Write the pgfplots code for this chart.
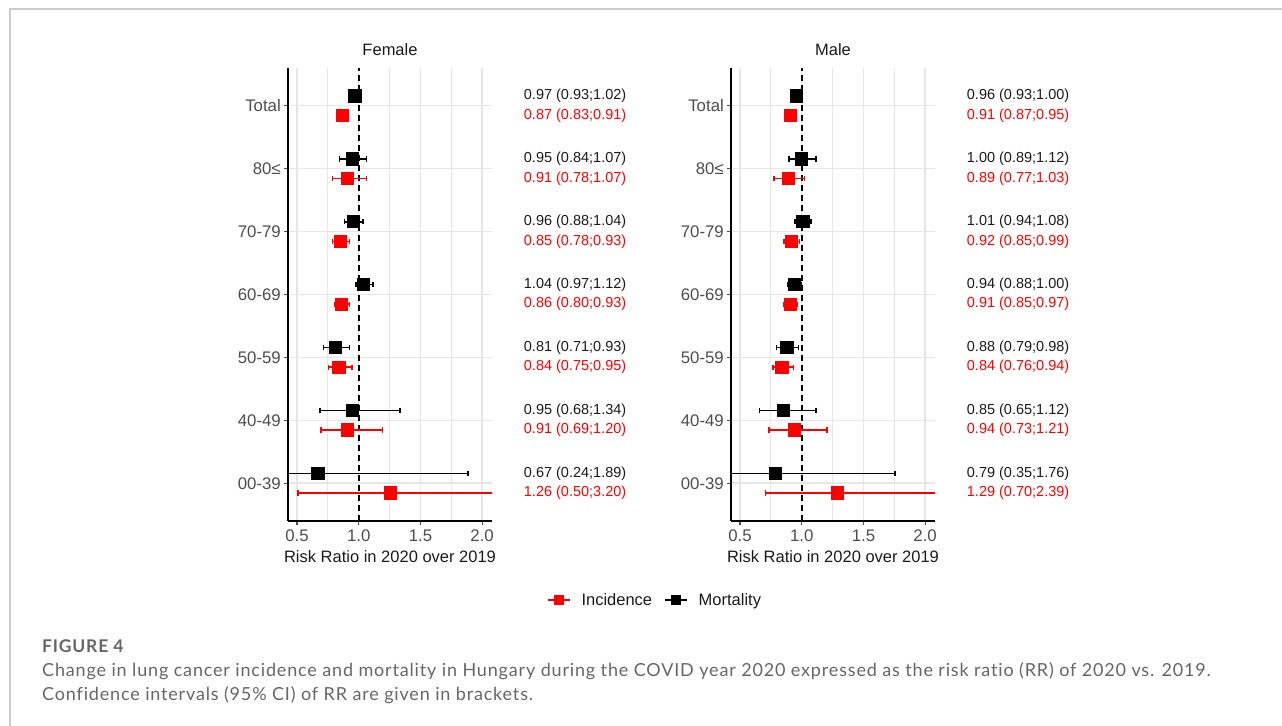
\documentclass[border=0pt]{standalone}
\usepackage{fontspec}
\setmainfont{Liberation Sans}
\newfontfamily\capfont[LetterSpace=4.6, Ligatures={NoCommon}]{Lato}
\usepackage{pgfplots}
\pgfplotsset{compat=1.18}
\usepackage{pgfplotstable}
\usetikzlibrary{arrows.meta}

\definecolor{tickgray}{HTML}{4D4D4D}
\definecolor{gridgray}{HTML}{E6E6E6}
\definecolor{capgray}{HTML}{666666}
\definecolor{bordergray}{HTML}{CCCCCC}
\definecolor{txt}{HTML}{1A1A1A}

% Female
\pgfplotstableread{
cat rr lo hi
7 0.97 0.93 1.02
6 0.95 0.84 1.07
5 0.96 0.88 1.04
4 1.04 0.97 1.12
3 0.81 0.71 0.93
2 0.95 0.68 1.34
1 0.67 0.24 1.89
}\femM
\pgfplotstableread{
cat rr lo hi
7 0.87 0.83 0.91
6 0.91 0.78 1.07
5 0.85 0.78 0.93
4 0.86 0.80 0.93
3 0.84 0.75 0.95
2 0.91 0.69 1.20
1 1.26 0.50 3.20
}\femI
% Male
\pgfplotstableread{
cat rr lo hi
7 0.96 0.93 1.00
6 1.00 0.89 1.12
5 1.01 0.94 1.08
4 0.94 0.88 1.00
3 0.88 0.79 0.98
2 0.85 0.65 1.12
1 0.79 0.35 1.76
}\malM
\pgfplotstableread{
cat rr lo hi
7 0.91 0.87 0.95
6 0.89 0.77 1.03
5 0.92 0.85 0.99
4 0.91 0.85 0.97
3 0.84 0.76 0.94
2 0.94 0.73 1.21
1 1.29 0.70 2.39
}\malI

\pgfplotsset{
 forest/.style={
  scale only axis, width=204bp, height=453bp,
  xmin=0.427, xmax=2.08, ymin=0.4, ymax=7.6,
  axis lines*=left,
  axis line style={black, line width=1.5bp},
  xtick={0.5,1,1.5,2}, xticklabels={0.5,1.0,1.5,2.0},
  minor xtick={0.75,1.25,1.75},
  ytick={1,2,3,4,5,6,7}, yticklabels={00-39,40-49,50-59,60-69,70-79,80≤,Total},
  grid=both,
  major grid style={gridgray, line width=1.5bp},
  minor grid style={gridgray, line width=0.9bp},
  tick align=outside, major tick length=4bp, minor tick length=0bp,
  tick style={tickgray, line width=1.2bp},
  ticklabel style={font=\fontsize{16.8bp}{19bp}\selectfont, text=tickgray},
  xticklabel style={anchor=base, inner sep=0pt, yshift=-17bp},
  yticklabel style={anchor=east, inner sep=0pt, xshift=-3bp},
  label style={font=\fontsize{16.5bp}{19bp}\selectfont, text=txt},
  xlabel style={at={(axis description cs:0.5,0)}, anchor=base, yshift=-42bp},
  title style={font=\fontsize{16.5bp}{19bp}\selectfont, text=txt, at={(axis description cs:0.5,1)}, anchor=base, yshift=7bp},
  xlabel={Risk Ratio in 2020 over 2019},
  clip mode=individual,
 },
 ci/.style={line width=1.5bp, forget plot, quiver={u=\thisrow{hi}-\thisrow{lo}, v=0},
  {Bar[width=5.2bp]}-{Bar[width=5.2bp]}},
 pt/.style={only marks, mark=square*, mark size=6.0bp, line width=1.2bp, forget plot},
}
\tikzset{ann/.style={anchor=west, inner sep=0pt, font=\fontsize{14.5bp}{17bp}\selectfont}}

\begin{document}
\begin{tikzpicture}[x=1bp,y=1bp]
\path[use as bounding box] (0,0) rectangle (1282,726);
\draw[bordergray, line width=2bp] (9.5,0) -- (9.5,716.7) -- (1282,716.7);

\begin{axis}[forest, at={(288bp,205bp)}, anchor=south west, title={Female},
  legend style={at={(axis description cs:1.799,-0.174)}, anchor=center, legend columns=2, draw=none, fill=none,
    font=\fontsize{16.5bp}{19bp}\selectfont, text=txt,
    /tikz/every odd column/.append style={column sep=9bp},
    /tikz/every even column/.append style={column sep=10bp}},
  legend image code/.code={\draw[mark repeat=2, mark phase=2, #1] plot coordinates {(0bp,0bp) (11bp,0bp) (22bp,0bp)};}]
\addplot[black, line width=1.6bp, dash pattern=on 6bp off 4bp, forget plot] coordinates {(1,0.4) (1,7.6)};
\addplot[ci, black] table[x=lo, y expr=\thisrow{cat}+0.155] {\femM};
\addplot[pt, black] table[x=rr, y expr=\thisrow{cat}+0.155] {\femM};
\addplot[ci, red] table[x=lo, y expr=\thisrow{cat}-0.155] {\femI};
\addplot[pt, red] table[x=rr, y expr=\thisrow{cat}-0.155] {\femI};
\addlegendimage{red, line width=1.6bp, mark=square*, mark size=4.3bp}
\addlegendentry{Incidence}
\addlegendimage{black, line width=1.6bp, mark=square*, mark size=4.3bp}
\addlegendentry{Mortality}
\node[ann, text=txt] at (axis cs:2.337,7.155) {0.97 (0.93;1.02)};
\node[ann, text=red] at (axis cs:2.337,6.845) {0.87 (0.83;0.91)};
\node[ann, text=txt] at (axis cs:2.337,6.155) {0.95 (0.84;1.07)};
\node[ann, text=red] at (axis cs:2.337,5.845) {0.91 (0.78;1.07)};
\node[ann, text=txt] at (axis cs:2.337,5.155) {0.96 (0.88;1.04)};
\node[ann, text=red] at (axis cs:2.337,4.845) {0.85 (0.78;0.93)};
\node[ann, text=txt] at (axis cs:2.337,4.155) {1.04 (0.97;1.12)};
\node[ann, text=red] at (axis cs:2.337,3.845) {0.86 (0.80;0.93)};
\node[ann, text=txt] at (axis cs:2.337,3.155) {0.81 (0.71;0.93)};
\node[ann, text=red] at (axis cs:2.337,2.845) {0.84 (0.75;0.95)};
\node[ann, text=txt] at (axis cs:2.337,2.155) {0.95 (0.68;1.34)};
\node[ann, text=red] at (axis cs:2.337,1.845) {0.91 (0.69;1.20)};
\node[ann, text=txt] at (axis cs:2.337,1.155) {0.67 (0.24;1.89)};
\node[ann, text=red] at (axis cs:2.337,0.845) {1.26 (0.50;3.20)};
\end{axis}

\begin{axis}[forest, at={(731bp,205bp)}, anchor=south west, title={Male}]
\addplot[black, line width=1.6bp, dash pattern=on 6bp off 4bp, forget plot] coordinates {(1,0.4) (1,7.6)};
\addplot[ci, black] table[x=lo, y expr=\thisrow{cat}+0.155] {\malM};
\addplot[pt, black] table[x=rr, y expr=\thisrow{cat}+0.155] {\malM};
\addplot[ci, red] table[x=lo, y expr=\thisrow{cat}-0.155] {\malI};
\addplot[pt, red] table[x=rr, y expr=\thisrow{cat}-0.155] {\malI};
\node[ann, text=txt] at (axis cs:2.337,7.155) {0.96 (0.93;1.00)};
\node[ann, text=red] at (axis cs:2.337,6.845) {0.91 (0.87;0.95)};
\node[ann, text=txt] at (axis cs:2.337,6.155) {1.00 (0.89;1.12)};
\node[ann, text=red] at (axis cs:2.337,5.845) {0.89 (0.77;1.03)};
\node[ann, text=txt] at (axis cs:2.337,5.155) {1.01 (0.94;1.08)};
\node[ann, text=red] at (axis cs:2.337,4.845) {0.92 (0.85;0.99)};
\node[ann, text=txt] at (axis cs:2.337,4.155) {0.94 (0.88;1.00)};
\node[ann, text=red] at (axis cs:2.337,3.845) {0.91 (0.85;0.97)};
\node[ann, text=txt] at (axis cs:2.337,3.155) {0.88 (0.79;0.98)};
\node[ann, text=red] at (axis cs:2.337,2.845) {0.84 (0.76;0.94)};
\node[ann, text=txt] at (axis cs:2.337,2.155) {0.85 (0.65;1.12)};
\node[ann, text=red] at (axis cs:2.337,1.845) {0.94 (0.73;1.21)};
\node[ann, text=txt] at (axis cs:2.337,1.155) {0.79 (0.35;1.76)};
\node[ann, text=red] at (axis cs:2.337,0.845) {1.29 (0.70;2.39)};
\end{axis}

\node[anchor=base west, inner sep=0pt, text=capgray, font=\capfont\bfseries\fontsize{17.5bp}{20bp}\selectfont] at (42,73) {FIGURE 4};
\node[anchor=base west, inner sep=0pt, text=capgray, font=\capfont\fontsize{18bp}{21bp}\selectfont] at (42,49) {Change in lung cancer incidence and mortality in Hungary during the COVID year 2020 expressed as the risk ratio (RR) of 2020 vs. 2019.};
\node[anchor=base west, inner sep=0pt, text=capgray, font=\capfont\fontsize{18bp}{21bp}\selectfont] at (42,25) {Confidence intervals (95\% CI) of RR are given in brackets.};
\end{tikzpicture}
\end{document}
